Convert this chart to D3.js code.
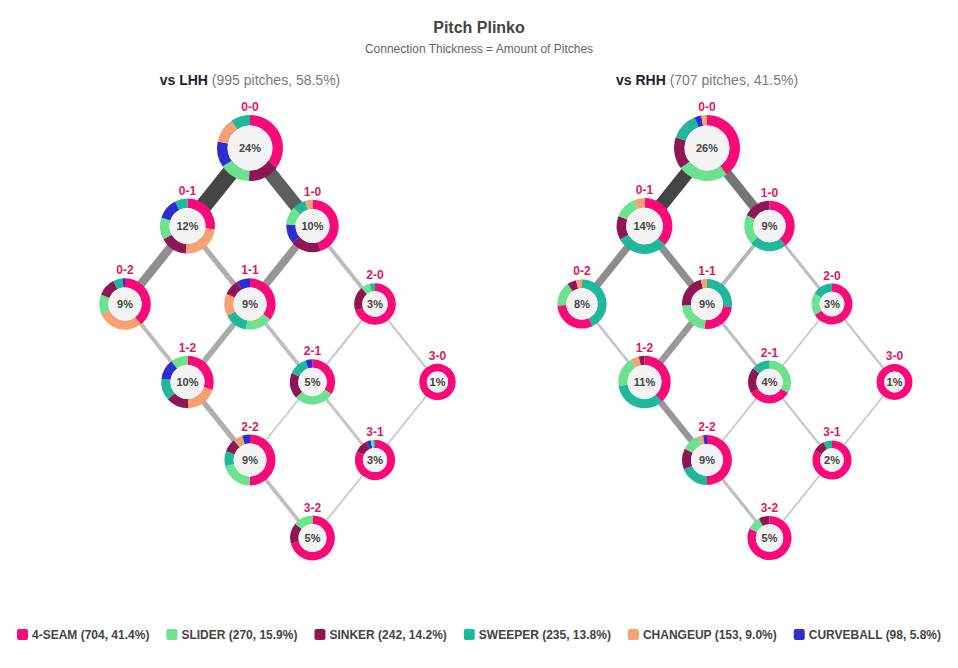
<!DOCTYPE html>
<html>
<head>
<meta charset="utf-8">
<title>Pitch Plinko</title>
<script src="https://cdnjs.cloudflare.com/ajax/libs/d3/7.8.5/d3.min.js"></script>
<style>
  body { margin: 0; background: #fff; }
  svg { font-family: "Liberation Sans", Arial, Helvetica, sans-serif; }
</style>
</head>
<body>
<svg id="chart" width="958" height="668"></svg>
<script>

// pitch types, in legend order
var pitchTypes = ["4-SEAM", "SLIDER", "SINKER", "SWEEPER", "CHANGEUP", "CURVEBALL"];
var pitchColors = ["#fa0a78", "#6be28d", "#8e1656", "#20b89a", "#f7a072", "#2e2ed0"];
var pitchTotals = [704, 270, 242, 235, 153, 98];

// ball-strike counts
var counts = ["0-0", "0-1", "1-0", "0-2", "1-1", "2-0", "1-2", "2-1", "3-0", "2-2", "3-1", "3-2"];

// pitches thrown in each count
var lhhPitches = [240, 121, 99, 92, 90, 31, 100, 50, 12, 88, 25, 47];
var rhhPitches = [183, 98, 64, 57, 62, 21, 76, 28, 8, 61, 16, 33];

// pitch mix (%) per count, same order as pitchTypes
var lhhMix = [
  [35, 15, 15.5, 9.5, 12.3, 12.7],
  [27, 13, 16, 7.5, 24, 12.5],
  [45, 11.5, 19, 8, 4.5, 12],
  [39.5, 12.5, 11.5, 6, 29, 1.5],
  [35.5, 17, 10, 15, 14, 8.5],
  [70, 7, 19, 4, 0, 0],
  [30, 10.5, 14, 13.5, 19.5, 12.5],
  [34, 29, 18.5, 13.5, 0, 5],
  [100, 0, 0, 0, 0, 0],
  [50, 21, 8.5, 9.5, 6, 5],
  [82, 2, 11, 1.5, 0, 3.5],
  [71, 14, 15, 0, 0, 0]
];
var rhhMix = [
  [40, 25, 15.7, 13.6, 2.8, 3.4],
  [37, 13.3, 13.8, 30, 5.9, 0],
  [39, 19, 18, 24, 0, 0],
  [31, 16, 6, 43, 4, 0],
  [24.5, 22.5, 22, 27, 4, 0],
  [66, 17.5, 0, 16.5, 0, 0],
  [38.5, 19, 3.5, 34, 5, 0],
  [33, 33.5, 19.5, 14, 0, 0],
  [100, 0, 0, 0, 0, 0],
  [50, 12, 13.5, 19, 3, 2.5],
  [83, 0, 10, 7, 0, 0],
  [82, 10, 8, 0, 0, 0]
];

// connections between counts and pitches that went along them
var linkPairs = [
  ["0-0", "0-1"], ["0-0", "1-0"], ["0-1", "0-2"], ["0-1", "1-1"], ["1-0", "1-1"],
  ["1-0", "2-0"], ["0-2", "1-2"], ["1-1", "1-2"], ["1-1", "2-1"], ["2-0", "2-1"],
  ["2-0", "3-0"], ["1-2", "2-2"], ["2-1", "2-2"], ["2-1", "3-1"], ["3-0", "3-1"],
  ["2-2", "3-2"], ["3-1", "3-2"]
];
var lhhLinks = [121, 99, 57, 30, 51, 19, 19, 34, 17, 6, 6, 30, 4, 11, 4, 17, 4];
var rhhLinks = [98, 64, 47, 47, 19, 13, 9, 40, 13, 4, 7, 40, 4, 6, 4, 13, 4];

var svg = d3.select("#chart");
var width = 958;
var totalPitches = d3.sum(pitchTotals);

svg.append("text")
  .attr("x", width / 2)
  .attr("y", 33)
  .attr("text-anchor", "middle")
  .style("font-size", "16px")
  .style("font-weight", "bold")
  .style("fill", "#444")
  .text("Pitch Plinko");

svg.append("text")
  .attr("x", width / 2)
  .attr("y", 53)
  .attr("text-anchor", "middle")
  .style("font-size", "12px")
  .style("fill", "#666")
  .text("Connection Thickness = Amount of Pitches");

var widthScale = d3.scaleLinear()
  .domain([0, d3.max(lhhLinks.concat(rhhLinks))])
  .range([1.5, 16.5]);

drawPanel("LHH", 250, lhhPitches, lhhMix, lhhLinks);
drawPanel("RHH", 707, rhhPitches, rhhMix, rhhLinks);
drawLegend();

function drawPanel(side, cx, pitches, mix, links) {
  var panelTotal = d3.sum(pitches);
  var g = svg.append("g");

  var title = g.append("text")
    .attr("x", cx)
    .attr("y", 85)
    .attr("text-anchor", "middle")
    .style("font-size", "14px");
  title.append("tspan")
    .style("font-weight", "bold")
    .style("fill", "#1f1f2b")
    .text("vs " + side);
  title.append("tspan")
    .style("fill", "#7a7a7a")
    .text(" (" + panelTotal + " pitches, " + d3.format(".1f")(panelTotal / totalPitches * 100) + "%)");

  // balls - strikes across, balls + strikes down
  var x = d3.scaleLinear().domain([-2, 3]).range([cx - 125, cx + 187.5]);
  var y = d3.scaleLinear().domain([0, 5]).range([148, 538]);
  var r = d3.scaleSqrt().domain([0, d3.max(pitches) / panelTotal]).range([14, 33]);

  var byCount = {};
  var nodes = counts.map(function(c, i) {
    var b = +c.split("-")[0], s = +c.split("-")[1];
    var n = { count: c, x: x(b - s), y: y(b + s), share: pitches[i] / panelTotal, mix: mix[i] };
    byCount[c] = n;
    return n;
  });

  var maxLink = d3.max(links);
  var linkColor = d3.interpolateRgb("#d2d2d2", "#444");

  g.selectAll(".link")
    .data(linkPairs)
    .enter().append("line")
    .attr("class", "link")
    .attr("x1", function(d) { return byCount[d[0]].x; })
    .attr("y1", function(d) { return byCount[d[0]].y; })
    .attr("x2", function(d) { return byCount[d[1]].x; })
    .attr("y2", function(d) { return byCount[d[1]].y; })
    .style("stroke", function(d, i) { return linkColor(links[i] / maxLink); })
    .style("stroke-width", function(d, i) { return widthScale(links[i]); });

  // biggest slice first, clockwise from the top
  var pie = d3.pie()
    .sort(null)
    .value(function(p) { return p.value; });

  var node = g.selectAll(".node")
    .data(nodes)
    .enter().append("g")
    .attr("class", "node")
    .attr("transform", function(d) { return "translate(" + d.x + "," + d.y + ")"; });

  node.each(function(d) {
    var outer = r(d.share);
    var inner = outer * 0.8 - 4;
    var arc = d3.arc().innerRadius(inner).outerRadius(outer);
    var el = d3.select(this);

    var slices = d.mix.map(function(v, i) { return { type: i, value: v }; })
      .filter(function(p) { return p.value > 0; })
      .sort(function(a, b) { return b.value - a.value; });

    el.selectAll("path")
      .data(pie(slices))
      .enter().append("path")
      .attr("d", arc)
      .style("fill", function(p) { return pitchColors[p.data.type]; });

    el.append("circle")
      .attr("r", inner)
      .style("fill", "#f3f3f3");

    el.append("text")
      .attr("text-anchor", "middle")
      .attr("dy", "0.35em")
      .style("font-size", "11px")
      .style("font-weight", "bold")
      .style("fill", "#444")
      .text(Math.round(d.share * 100) + "%");

    el.append("text")
      .attr("text-anchor", "middle")
      .attr("y", -outer - 4)
      .style("font-size", "12px")
      .style("font-weight", "bold")
      .style("fill", "#e0185e")
      .text(d.count);
  });
}

function drawLegend() {
  var lg = svg.append("g");
  var pos = 0;
  pitchTypes.forEach(function(p, i) {
    var item = lg.append("g").attr("transform", "translate(" + pos + ",0)");
    item.append("rect")
      .attr("x", 0)
      .attr("y", -6)
      .attr("width", 11)
      .attr("height", 11)
      .attr("rx", 2)
      .style("fill", pitchColors[i]);
    var t = item.append("text")
      .attr("x", 15)
      .attr("y", 4)
      .style("font-size", "12px")
      .style("font-weight", "bold")
      .style("fill", "#444")
      .text(p + " (" + pitchTotals[i] + ", " + d3.format(".1f")(pitchTotals[i] / totalPitches * 100) + "%)");
    pos += 15 + t.node().getComputedTextLength() + 17;
  });
  pos -= 17;
  lg.attr("transform", "translate(" + ((width - pos) / 2) + ",635)");
}

</script>
</body>
</html>
